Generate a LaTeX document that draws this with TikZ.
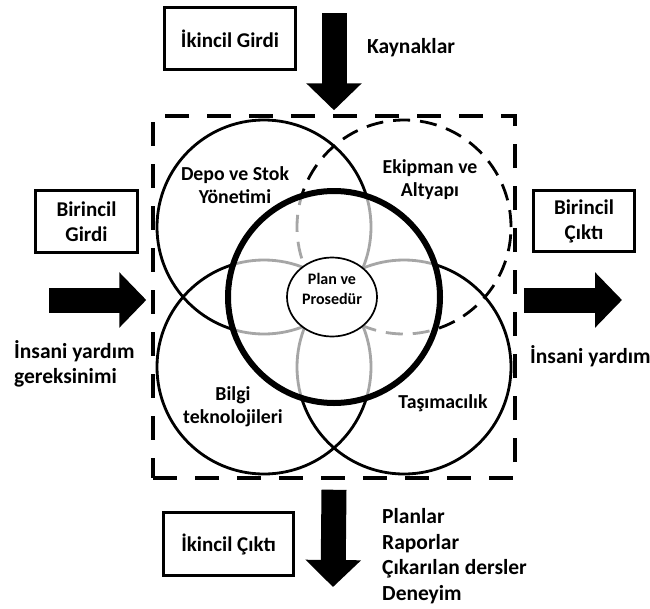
\documentclass[tikz,border=0pt]{standalone}
\usepackage{fontspec}
\setmainfont{Carlito}
\usetikzlibrary{arrows.meta,positioning,calc,shapes.geometric}
\definecolor{soft}{HTML}{A6A6A6}
\tikzset{box/.style={draw,line width=2.5pt,align=center,inner sep=0pt,font=\bfseries\fontsize{21}{25}\selectfont},
note/.style={align=left,inner sep=0pt,font=\bfseries\fontsize{21.5}{25.5}\selectfont},
lbl/.style={align=center,inner sep=0pt,font=\bfseries\fontsize{19.8}{23}\selectfont},
ring/.style={line width=2.8pt},
dring/.style={ring,dash pattern=on 17pt off 10pt},
bigarrow/.style={line width=25pt,-{Triangle[length=27pt,width=54pt]}},
frame/.style={draw,line width=3.5pt,dash pattern=on 24pt off 18pt,minimum size=362pt,inner sep=0pt}}
\begin{document}
\begin{tikzpicture}[x=1pt,y=-1pt]
\useasboundingbox (0,0) rectangle (650,608);
\node[frame] (frame) at (334,297) {};
\coordinate (c) at (334,297);
\coordinate (depo) at (264,227);
\coordinate (ekip) at (404,227);
\coordinate (bilgi) at (264,367);
\coordinate (tasi) at (404,367);
% outer circles
\draw[ring] (depo) circle[radius=107pt];
\draw[dring] (ekip) circle[radius=107pt];
\draw[ring] (bilgi) circle[radius=107pt];
\draw[ring] (tasi) circle[radius=107pt];
% grey parts inside the plan circle
\fill[white] (c) circle[radius=106pt];
\begin{scope}
\clip (c) circle[radius=106pt];
\draw[ring,soft] (depo) circle[radius=107pt];
\draw[dring,soft] (ekip) circle[radius=107pt];
\draw[ring,soft] (bilgi) circle[radius=107pt];
\draw[ring,soft] (tasi) circle[radius=107pt];
\end{scope}
\draw[line width=6pt] (c) circle[radius=106pt];
\node[draw,ellipse,fill=white,line width=1.7pt,minimum width=90pt,minimum height=79pt] (plan) at (332,297) {};
\node[align=center,inner sep=0pt,font=\bfseries\fontsize{16}{20}\selectfont] (plantext) at (332,289) {Plan ve\\Prosedür};
\node[lbl] (depolbl) at (235,185) {Depo ve Stok\\Yönetimi};
\node[lbl] (ekiplbl) at (430,180) {Ekipman ve\\Altyapı};
\node[lbl] (bilgilbl) at (233,407) {Bilgi\\teknolojileri};
\node[lbl] (tasilbl) at (443,403) {Taşımacılık};
% boxes and texts
\node[box,minimum width=131pt,minimum height=62pt] (sgirdi) at (230,38.5) {İkincil Girdi};
\node[box,minimum width=102pt,minimum height=62pt] (pgirdi) at (86.5,221.5) {Birincil\\Girdi};
\node[box,minimum width=101pt,minimum height=61pt] (pcikti) at (584,221) {Birincil\\Çıktı};
\node[box,minimum width=130pt,minimum height=63pt] (scikti) at (228.5,544) {İkincil Çıktı};
\node[note] (kaynak) at (411,48) {Kaynaklar};
\node[note,anchor=west] (ihtiyac) at (14,364) {İnsani yardım\\gereksinimi};
\node[note,anchor=west] (yardim) at (530,356) {İnsani yardım};
\node[note,anchor=west] (ciktilar) at (382,556) {Planlar\\Raporlar\\Çıkarılan dersler\\Deneyim};
% block arrows
\coordinate (intop) at (334,13);
\coordinate (inleft) at (49,300);
\coordinate (outright) at (622,300);
\coordinate (outbottom) at (333,587);
\draw[bigarrow] (intop) -- ([yshift=4pt]frame.north);
\draw[bigarrow] (inleft) -- ([xshift=-5pt,yshift=-3pt]frame.west);
\draw[bigarrow] ([xshift=7pt,yshift=-3pt]frame.east) -- (outright);
\draw[bigarrow] ([yshift=-10pt]frame.south) -- (outbottom);
\end{tikzpicture}
\end{document}
